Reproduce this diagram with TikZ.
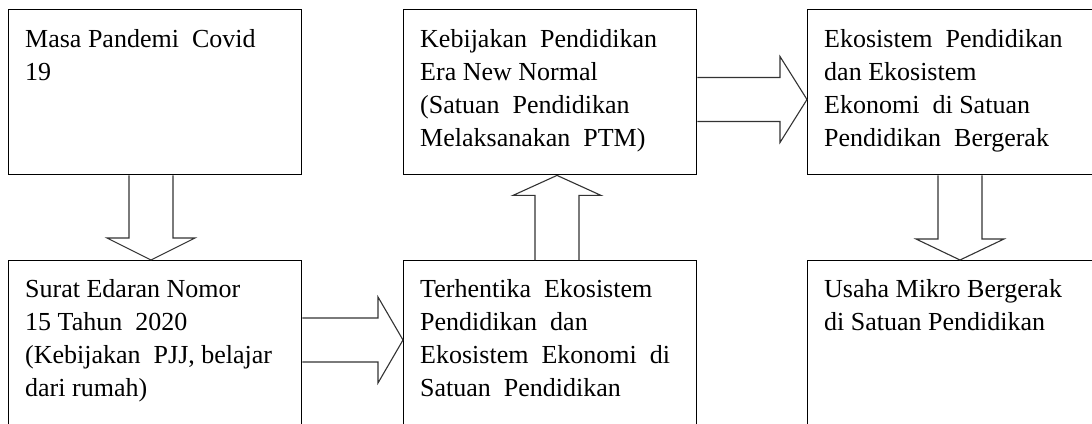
\documentclass[tikz,border=0pt]{standalone}
\usepackage{fontspec}
\setmainfont{Liberation Serif}
\usetikzlibrary{calc}
\tikzset{
  box/.style={draw=black, line width=1.4pt, rectangle, inner sep=0pt,
    minimum width=293pt, anchor=north west},
  topbox/.style={box, minimum height=165pt},
  botbox/.style={box, minimum height=200pt},
  txt/.style={inner sep=0pt, align=left, anchor=north west,
    font=\fontsize{26}{33}\selectfont},
  blockarrow/.style={draw=black!80, line width=1.1pt, line join=miter}
}
% vertical block arrow: start point on box edge, tip point, head length (signed)
\newcommand{\vblock}[3]{%
  \draw[blockarrow] ($(#1)+(-22,0)$) -- ($(#2)+(-22,#3)$) -- ($(#2)+(-44,#3)$)
    -- (#2) -- ($(#2)+(44,#3)$) -- ($(#2)+(22,#3)$) -- ($(#1)+(22,0)$);}
\newcommand{\hblock}[3]{%
  \draw[blockarrow] ($(#1)+(0,-22)$) -- ($(#2)+(#3,-22)$) -- ($(#2)+(#3,-43)$)
    -- (#2) -- ($(#2)+(#3,43)$) -- ($(#2)+(#3,22)$) -- ($(#1)+(0,22)$);}
\begin{document}
\begin{tikzpicture}[x=1pt,y=-1pt]
\useasboundingbox (0,0) rectangle (1092,423);
\clip (0,0) rectangle (1092,423);
\fill[white] (0,0) rectangle (1092,423);

% boxes
\node[topbox] (b1) at (8,9) {};
\node[botbox] (b2) at (8,260) {};
\node[topbox] (b3) at (403,9) {};
\node[botbox] (b4) at (403,260) {};
\node[topbox] (b5) at (807,9) {};
\node[botbox] (b6) at (807,260) {};

% texts
\node[txt] (t1) at ($(b1.north west)+(17,15)$) {\strut Masa Pandemi\ \ Covid\\19};
\node[txt] (t2) at ($(b2.north west)+(17,14)$) {\strut Surat Edaran Nomor\\15 Tahun\ \ 2020\\(Kebijakan\ \ PJJ, belajar\\dari rumah)};
\node[txt] (t3) at ($(b3.north west)+(17,15)$) {\strut Kebijakan\ \ Pendidikan\\Era New Normal\\(Satuan\ \ Pendidikan\\Melaksanakan\ \ PTM)};
\node[txt] (t4) at ($(b4.north west)+(17,14)$) {\strut Terhentika\ \ Ekosistem\\Pendidikan\ \ dan\\Ekosistem\ \ Ekonomi\ \ di\\Satuan\ \ Pendidikan};
\node[txt] (t5) at ($(b5.north west)+(17,15)$) {\strut Ekosistem\ \ Pendidikan\\dan Ekosistem\\Ekonomi\ \ di Satuan\\Pendidikan\ \ Bergerak};
\node[txt] (t6) at ($(b6.north west)+(17,14)$) {\strut Usaha Mikro Bergerak\\di Satuan Pendidikan};

% connector anchor points
\coordinate (d1s) at ($(b1.south west)+(143,0)$);
\coordinate (d1t) at (d1s |- b2.north);
\coordinate (u1s) at ($(b4.north west)+(154,0)$);
\coordinate (u1t) at (u1s |- b3.south);
\coordinate (d2s) at ($(b5.south west)+(153,0)$);
\coordinate (d2t) at (d2s |- b6.north);
\coordinate (r1s) at ($(b2.north east)+(0,80)$);
\coordinate (r1t) at (b4.north west |- r1s);
\coordinate (r2s) at ($(b3.north east)+(0,90.5)$);
\coordinate (r2t) at (b5.north west |- r2s);

% block arrows
\vblock{d1s}{d1t}{-22}
\vblock{u1s}{u1t}{20}
\vblock{d2s}{d2t}{-21}
\hblock{r1s}{r1t}{-25}
\hblock{r2s}{r2t}{-27}
\end{tikzpicture}
\end{document}
